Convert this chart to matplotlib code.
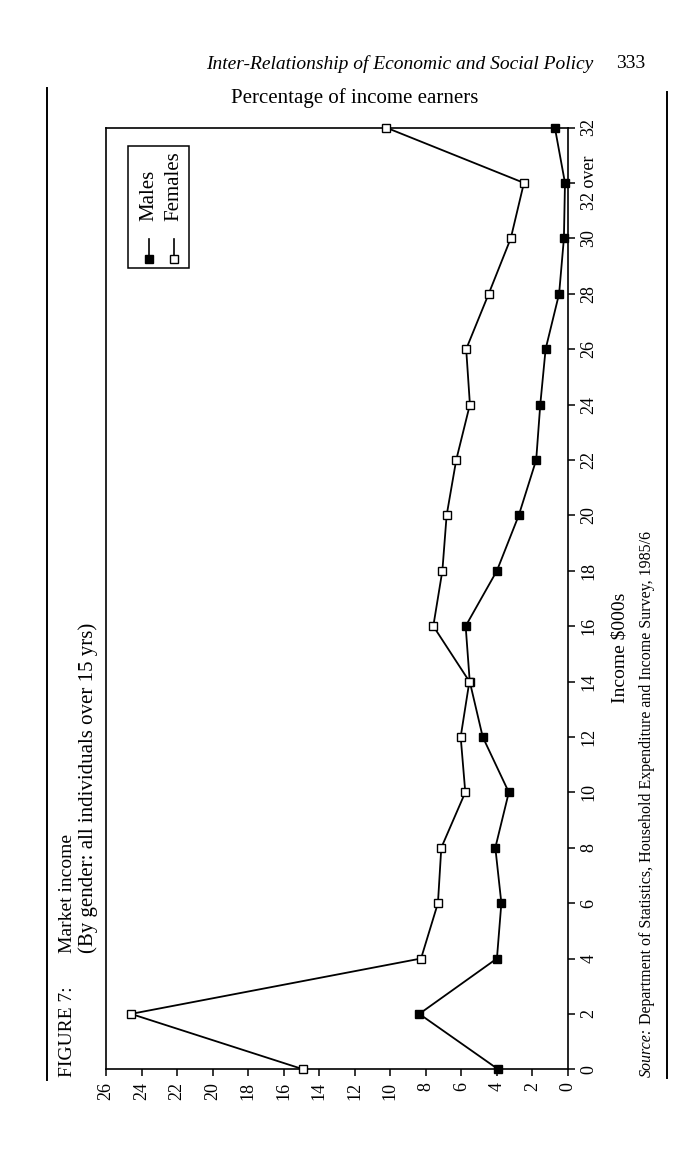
import matplotlib.pyplot as plt
from matplotlib.lines import Line2D
from matplotlib.patches import Rectangle

plt.rcParams['font.family'] = ['Liberation Serif', 'DejaVu Serif']

# income bands ($000s), as labelled on the chart
income_labels = ['0', '2', '4', '6', '8', '10', '12', '14', '16', '18', '20',
                 '22', '24', '26', '28', '30', '32 over', '32']
# percentage of income earners
males = [3.93, 8.37, 4.0, 3.75, 4.09, 3.33, 4.80, 5.53, 5.76, 4.0, 2.77,
         1.79, 1.56, 1.26, 0.5, 0.23, 0.17, 0.74]
females = [14.9, 24.59, 8.27, 7.32, 7.13, 5.78, 6.04, 5.55, 7.58, 7.07, 6.83,
           6.29, 5.52, 5.73, 4.46, 3.22, 2.48, 10.25]
pct_ticks = list(range(0, 27, 2))

W, H = 700, 1154


def fx(x):
    return x / W


def fy(y):
    return 1 - y / H


fig = plt.figure(figsize=(W / 100, H / 100), dpi=100)
ax = fig.add_axes([fx(106), fy(1069.3), fx(568 - 106), (1069.3 - 127.5) / H])

pos = list(range(len(income_labels)))
ax.plot(males, pos, color='black', lw=1.3, marker='s', ms=6,
        mfc='black', mec='black', mew=1.0, clip_on=False, zorder=3)
ax.plot(females, pos, color='black', lw=1.3, marker='s', ms=6,
        mfc='white', mec='black', mew=1.0, clip_on=False, zorder=3)

ax.set_xlim(26, 0)
ax.set_ylim(0, len(income_labels) - 1)
ax.set_xticks(pct_ticks)
ax.set_xticklabels([str(t) for t in pct_ticks], rotation=90, fontsize=13)
ax.yaxis.tick_right()
ax.set_yticks(pos)
ax.set_yticklabels(income_labels, rotation=90, fontsize=13, va='center')
ax.tick_params(direction='out', length=5, width=1.1, pad=4)
for s in ax.spines.values():
    s.set_linewidth(1.2)

# legend (drawn rotated, like the rest of the page)
fig.add_artist(Rectangle((fx(128), fy(268)), fx(189 - 128), (268 - 146) / H,
                         transform=fig.transFigure, fill=False, lw=1.1, ec='black'))
for xc, fc, name in [(149, 'black', 'Males'), (174, 'white', 'Females')]:
    fig.add_artist(Line2D([fx(xc), fx(xc)], [fy(259), fy(239)], transform=fig.transFigure,
                          color='black', lw=1.2, marker='s', ms=6, mfc=fc, mec='black',
                          markevery=[0]))
    fig.text(fx(xc), fy(221), name, rotation=90, ha='center', va='bottom', fontsize=15)

# page furniture
fig.text(fx(593), fy(64), 'Inter-Relationship of Economic and Social Policy',
         style='italic', ha='right', va='center', fontsize=14)
fig.text(fx(645), fy(64), '333', ha='right', va='center', fontsize=14)
fig.text(fx(355), fy(98), 'Percentage of income earners', ha='center', va='center',
         fontsize=15)
fig.text(fx(67), fy(1077), 'FIGURE 7:', rotation=90, ha='center', va='bottom', fontsize=14)
fig.text(fx(67), fy(953), 'Market income', rotation=90, ha='center', va='bottom', fontsize=14)
fig.text(fx(88), fy(953), '(By gender: all individuals over 15 yrs)', rotation=90,
         ha='center', va='bottom', fontsize=15)
fig.text(fx(620), fy(648), 'Income $000s', rotation=90, ha='center', va='center',
         fontsize=14)
src = fig.text(fx(647), fy(1077), 'Source:', style='italic', rotation=90,
               ha='center', va='bottom', fontsize=11.5)
ax.annotate(' Department of Statistics, Household Expenditure and Income Survey, 1985/6',
            xy=(0.5, 1.0), xycoords=src, rotation=90, ha='center', va='bottom',
            fontsize=11.5, annotation_clip=False)

fig.add_artist(Line2D([fx(47), fx(47)], [fy(88), fy(1080)], transform=fig.transFigure,
                      color='black', lw=1.4))
fig.add_artist(Line2D([fx(667), fx(667)], [fy(92), fy(1078)], transform=fig.transFigure,
                      color='black', lw=1.4))

fig.savefig('out.png', dpi=100)
